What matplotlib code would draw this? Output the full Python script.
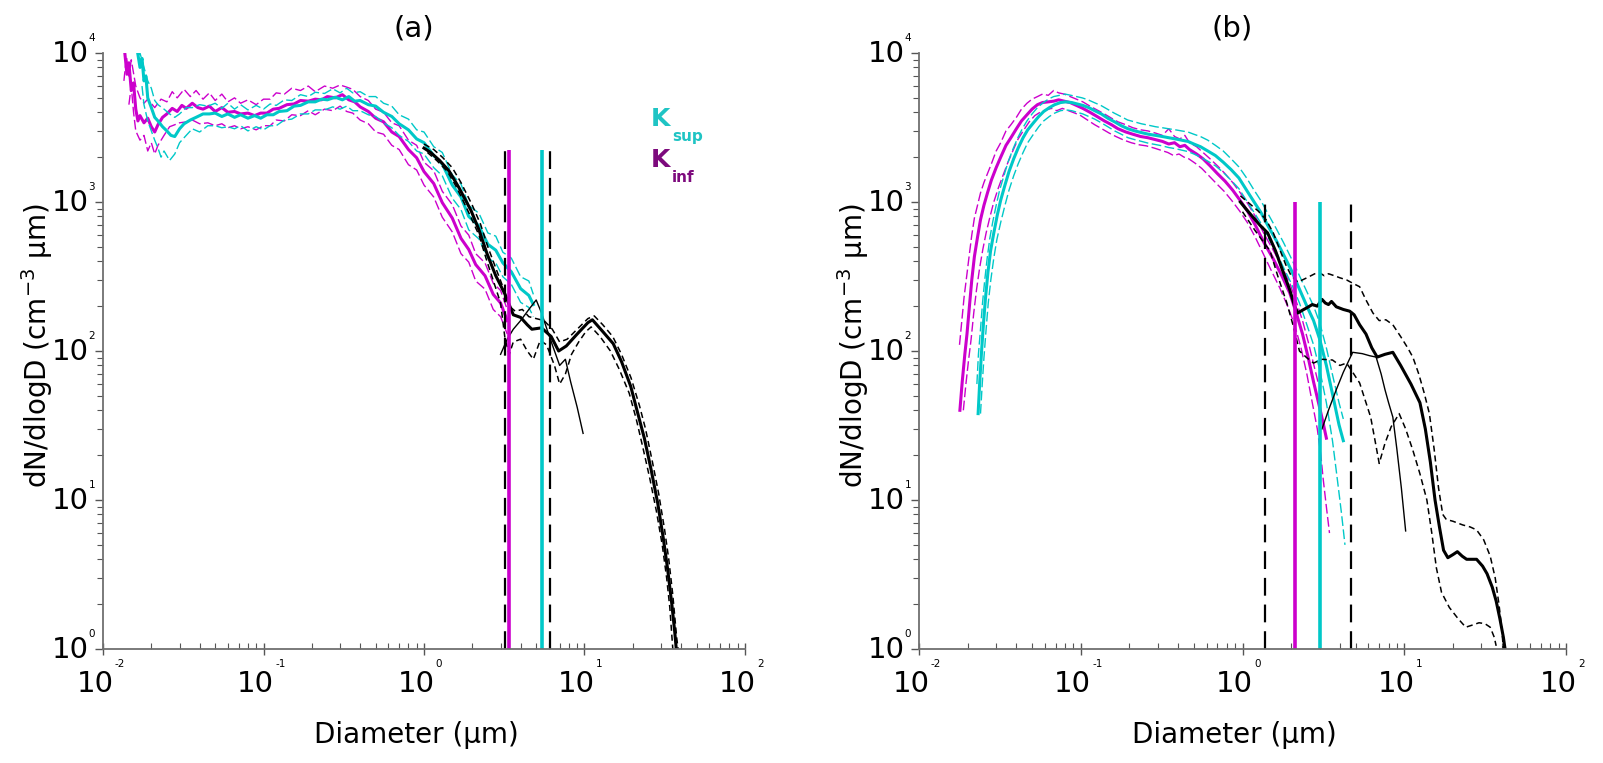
import matplotlib
matplotlib.use("Agg")
import matplotlib.pyplot as plt
from matplotlib.ticker import LogLocator, NullFormatter

# ---- panel (a): Kinf (magenta) / Ksup (cyan), mean and bounds (D in um, dN/dlogD)
mag_a = [(0.0137, 9800), (0.0141, 7200), (0.0145, 8600), (0.0150, 5600), (0.0155, 6300),
         (0.0160, 4200), (0.0165, 3500), (0.0170, 3800), (0.0180, 3400), (0.0190, 3650),
         (0.0200, 3200), (0.0210, 2950), (0.0220, 3300), (0.0235, 3700), (0.0250, 3900),
         (0.0270, 4250), (0.0290, 4050), (0.0310, 4450), (0.0330, 4250), (0.0360, 4600),
         (0.0390, 4300), (0.0420, 4200), (0.0460, 4400), (0.0500, 4050), (0.0550, 4300),
         (0.0600, 4000), (0.0660, 4050), (0.0720, 3900), (0.0800, 3950), (0.0880, 3800),
         (0.0960, 3950), (0.105, 3950), (0.115, 4200), (0.125, 4250), (0.140, 4500),
         (0.155, 4550), (0.170, 4800), (0.190, 4750), (0.210, 4900), (0.230, 4850),
         (0.250, 5100), (0.280, 5000), (0.310, 5250), (0.340, 4850), (0.370, 4700),
         (0.400, 4350), (0.450, 4050), (0.500, 3650), (0.560, 3450), (0.630, 2950),
         (0.700, 2750), (0.800, 2250), (0.900, 1980), (1.00, 1600), (1.15, 1330),
         (1.30, 990), (1.50, 780), (1.70, 570), (1.90, 480), (2.10, 380),
         (2.40, 320), (2.70, 240), (3.00, 210), (3.30, 160)]
mag_a_hi = [(0.0135, 6500), (0.014, 9500), (0.0145, 7000), (0.015, 9000), (0.016, 6000),
            (0.017, 5000), (0.018, 4600), (0.019, 4900), (0.021, 4300), (0.023, 4900),
            (0.025, 4700), (0.027, 5500), (0.029, 5000), (0.032, 5700), (0.035, 5100),
            (0.038, 5600), (0.042, 4900), (0.046, 5400), (0.05, 4800), (0.055, 5300),
            (0.06, 4700), (0.066, 5000), (0.072, 4600), (0.08, 4850), (0.09, 4500),
            (0.10, 4900), (0.11, 4900), (0.12, 5400), (0.135, 5300), (0.15, 5800),
            (0.17, 5600), (0.19, 6000), (0.21, 5500), (0.24, 6000), (0.27, 5800),
            (0.30, 6100), (0.33, 5900), (0.36, 5700), (0.40, 5100), (0.45, 4800),
            (0.50, 4200), (0.56, 4000), (0.63, 3400), (0.70, 3250), (0.80, 2600),
            (0.90, 2400), (1.0, 1850), (1.15, 1620), (1.3, 1180), (1.5, 960),
            (1.7, 690), (1.9, 600), (2.1, 450), (2.4, 390), (2.7, 285), (3.0, 255), (3.3, 190)]
mag_a_lo = [(0.0145, 4500), (0.015, 6000), (0.0155, 4000), (0.016, 3000), (0.017, 2600),
            (0.018, 2800), (0.019, 2200), (0.020, 2500), (0.021, 2100), (0.022, 2400),
            (0.024, 2800), (0.026, 3200), (0.028, 3300), (0.030, 3400), (0.033, 3450),
            (0.036, 3550), (0.040, 3350), (0.045, 3400), (0.050, 3250), (0.055, 3350),
            (0.060, 3150), (0.066, 3250), (0.072, 3100), (0.080, 3200), (0.090, 3050),
            (0.10, 3250), (0.11, 3250), (0.12, 3550), (0.135, 3500), (0.15, 3850),
            (0.17, 3800), (0.19, 4100), (0.21, 3850), (0.24, 4200), (0.27, 4100),
            (0.30, 4400), (0.33, 4050), (0.36, 3950), (0.40, 3550), (0.45, 3350),
            (0.50, 2950), (0.56, 2850), (0.63, 2400), (0.70, 2250), (0.80, 1780),
            (0.90, 1640), (1.0, 1300), (1.15, 1080), (1.3, 790), (1.5, 630),
            (1.7, 450), (1.9, 395), (2.1, 295), (2.4, 260), (2.7, 190), (3.0, 170), (3.3, 130)]

cyan_a = [(0.0165, 9800), (0.0170, 8000), (0.0175, 9200), (0.0180, 6500), (0.0185, 7000),
          (0.0190, 5000), (0.0200, 4300), (0.0210, 3700), (0.0220, 3500), (0.0235, 3200),
          (0.0250, 3000), (0.0265, 2800), (0.0280, 2750), (0.0300, 3100), (0.0320, 3350),
          (0.0350, 3550), (0.0380, 3700), (0.0420, 3900), (0.0460, 3900), (0.0500, 3950),
          (0.0550, 3750), (0.0600, 3900), (0.0660, 3700), (0.0720, 3850), (0.0800, 3650),
          (0.0880, 3800), (0.0960, 3650), (0.105, 3850), (0.115, 3850), (0.125, 4050),
          (0.140, 4100), (0.155, 4400), (0.170, 4450), (0.190, 4700), (0.210, 4700),
          (0.230, 4900), (0.250, 4850), (0.280, 5050), (0.310, 4850), (0.340, 5100),
          (0.370, 4750), (0.400, 4800), (0.450, 4500), (0.500, 4400), (0.560, 4000),
          (0.630, 3750), (0.700, 3350), (0.800, 3050), (0.900, 2650), (1.00, 2500),
          (1.15, 2050), (1.30, 1800), (1.50, 1300), (1.70, 1080), (1.90, 800),
          (2.20, 690), (2.50, 520), (2.80, 475), (3.10, 390), (3.50, 340),
          (4.00, 262), (4.50, 236), (4.80, 205)]
cyan_a_hi = [(0.0165, 9500), (0.017, 10000), (0.018, 8000), (0.019, 6500), (0.020, 5800),
             (0.021, 4800), (0.022, 4500), (0.024, 4200), (0.026, 3900), (0.028, 3700),
             (0.030, 3900), (0.033, 4300), (0.036, 4300), (0.040, 4500), (0.045, 4400),
             (0.050, 4600), (0.055, 4250), (0.060, 4600), (0.066, 4200), (0.072, 4500),
             (0.080, 4150), (0.090, 4450), (0.10, 4200), (0.11, 4550), (0.12, 4450),
             (0.135, 4850), (0.15, 4800), (0.17, 5250), (0.19, 5100), (0.21, 5450),
             (0.24, 5350), (0.27, 5750), (0.30, 5400), (0.33, 5800), (0.36, 5400),
             (0.40, 5500), (0.45, 5100), (0.50, 5100), (0.56, 4600), (0.63, 4400),
             (0.70, 3850), (0.80, 3600), (0.90, 3050), (1.0, 2950), (1.15, 2350),
             (1.3, 2150), (1.5, 1520), (1.7, 1320), (1.9, 950), (2.2, 840),
             (2.5, 620), (2.8, 590), (3.1, 460), (3.5, 420), (4.0, 315), (4.5, 295), (4.8, 240)]
cyan_a_lo = [(0.0175, 6000), (0.018, 4500), (0.019, 3500), (0.020, 3000), (0.021, 2600),
             (0.022, 2300), (0.023, 2000), (0.024, 2200), (0.026, 1900), (0.028, 2100),
             (0.030, 2500), (0.033, 2800), (0.036, 3100), (0.040, 2950), (0.045, 3250),
             (0.050, 3250), (0.055, 3150), (0.060, 3200), (0.066, 3100), (0.072, 3250),
             (0.080, 3000), (0.090, 3200), (0.10, 3050), (0.11, 3250), (0.12, 3250),
             (0.135, 3550), (0.15, 3600), (0.17, 3900), (0.19, 3900), (0.21, 4150),
             (0.24, 4150), (0.27, 4350), (0.30, 4200), (0.33, 4400), (0.36, 4100),
             (0.40, 4100), (0.45, 3850), (0.50, 3750), (0.56, 3400), (0.63, 3150),
             (0.70, 2800), (0.80, 2550), (0.90, 2200), (1.0, 2100), (1.15, 1700),
             (1.3, 1500), (1.5, 1060), (1.7, 890), (1.9, 650), (2.2, 565),
             (2.5, 420), (2.8, 390), (3.1, 315), (3.5, 280), (4.0, 212), (4.5, 196), (4.8, 170)]

# black: optical counter (thick) with bounds, second counter (thin)
blk_a = [(1.00, 2300), (1.10, 2150), (1.25, 1900), (1.43, 1620), (1.65, 1250), (1.96, 880),
         (2.2, 650), (2.47, 450), (2.8, 320), (3.2, 240), (3.6, 175), (4.0, 168), (4.4, 150),
         (4.7, 140), (5.4, 143), (6.2, 125), (6.9, 100), (7.7, 108), (9.0, 130), (10.5, 155),
         (11.2, 162), (13.0, 135), (15.1, 112), (17.0, 85), (19.4, 58), (21.5, 38),
         (23.6, 26), (26.0, 16), (28.6, 9.5), (31.0, 5.5), (33.0, 3.4), (35.0, 2.0),
         (36.5, 1.3), (37.3, 1.0)]
blk_a_hi = [(1.00, 2450), (1.15, 2250), (1.3, 2000), (1.5, 1700), (1.7, 1350), (2.0, 950),
            (2.25, 710), (2.5, 500), (2.8, 360), (3.1, 270), (3.4, 200), (3.7, 185),
            (4.1, 190), (4.5, 170), (5.0, 165), (5.6, 160), (6.3, 140), (7.0, 115),
            (7.8, 120), (9.0, 140), (10.5, 165), (11.5, 172), (13.0, 150), (15.0, 125),
            (17.0, 95), (19.5, 66), (22.0, 43), (24.0, 30), (26.5, 18), (29.0, 11),
            (31.5, 6.4), (33.5, 4.0), (35.5, 2.3), (37.5, 1.2), (38.3, 1.0)]
blk_a_lo = [(1.05, 2150), (1.2, 1900), (1.4, 1600), (1.6, 1250), (1.9, 850), (2.2, 600),
            (2.45, 410), (2.75, 280), (3.0, 210), (3.2, 120), (3.4, 95), (3.6, 115),
            (4.0, 120), (4.4, 100), (4.8, 88), (5.3, 118), (5.8, 110), (6.5, 80), (7.0, 60),
            (7.6, 70), (8.3, 95), (9.2, 115), (10.2, 135), (11.0, 145), (12.5, 125),
            (14.5, 100), (16.5, 75), (19.0, 52), (21.0, 35), (23.0, 23), (25.5, 14),
            (28.0, 8.5), (30.5, 5.0), (32.5, 3.0), (34.0, 1.9), (35.5, 1.0)]
thin_a = [(3.0, 95), (3.3, 120), (3.6, 140), (4.0, 160), (4.5, 190), (5.0, 220), (5.4, 180),
          (5.9, 135), (6.4, 105), (7.0, 80), (7.6, 88), (8.2, 62), (9.0, 42), (9.8, 28)]

# ---- panel (b)
mag_b = [(0.0179, 40), (0.0185, 62), (0.0192, 95), (0.0198, 130), (0.0205, 200), (0.0212, 300),
         (0.0220, 430), (0.0230, 580), (0.0240, 760), (0.0252, 950), (0.0265, 1150),
         (0.0280, 1400), (0.0300, 1700), (0.0320, 2000), (0.0345, 2400), (0.0370, 2700),
         (0.0400, 3100), (0.0430, 3500), (0.0465, 3850), (0.0500, 4200), (0.0540, 4500),
         (0.0580, 4650), (0.0630, 4700), (0.0680, 4750), (0.0730, 4850), (0.0790, 4750),
         (0.0860, 4650), (0.0940, 4450), (0.103, 4250), (0.114, 4000), (0.126, 3750),
         (0.140, 3500), (0.155, 3300), (0.170, 3100), (0.190, 2950), (0.210, 2850),
         (0.235, 2750), (0.260, 2700), (0.290, 2620), (0.320, 2550), (0.350, 2450),
         (0.380, 2500), (0.410, 2350), (0.440, 2400), (0.470, 2250), (0.520, 2100),
         (0.570, 1950), (0.630, 1750), (0.700, 1550), (0.780, 1380), (0.870, 1200),
         (0.970, 1020), (1.08, 860), (1.20, 700), (1.35, 540), (1.54, 420), (1.75, 320),
         (1.96, 245), (2.15, 180), (2.35, 130), (2.55, 90), (2.75, 62), (2.95, 45),
         (3.15, 33), (3.30, 26)]
mag_b_hi = [(0.0178, 110), (0.0185, 170), (0.019, 230), (0.0198, 330), (0.0205, 450),
            (0.0212, 600), (0.022, 780), (0.023, 950), (0.024, 1150), (0.0252, 1350),
            (0.0265, 1550), (0.028, 1800), (0.030, 2200), (0.032, 2500), (0.0345, 3000),
            (0.037, 3300), (0.040, 3700), (0.043, 4200), (0.0465, 4600), (0.050, 4900),
            (0.054, 5100), (0.058, 5300), (0.063, 5200), (0.068, 5600), (0.073, 5400),
            (0.079, 5300), (0.086, 5100), (0.094, 4900), (0.103, 4700), (0.114, 4400),
            (0.126, 4150), (0.140, 3900), (0.155, 3650), (0.170, 3450), (0.190, 3300),
            (0.210, 3150), (0.235, 3050), (0.260, 3000), (0.290, 2900), (0.320, 2800),
            (0.350, 3100), (0.380, 2750), (0.410, 2650), (0.440, 2800), (0.470, 2500),
            (0.520, 2350), (0.570, 2150), (0.630, 1950), (0.700, 1750), (0.780, 1550),
            (0.870, 1350), (0.970, 1150), (1.08, 970), (1.20, 800), (1.35, 620),
            (1.54, 480), (1.75, 370), (1.96, 285), (2.15, 215), (2.35, 160), (2.55, 115),
            (2.75, 82), (2.95, 60)]
mag_b_lo = [(0.0188, 40), (0.0195, 60), (0.0202, 85), (0.021, 120), (0.0218, 180),
            (0.0227, 260), (0.0237, 360), (0.0248, 480), (0.026, 620), (0.0275, 800),
            (0.029, 1000), (0.031, 1250), (0.033, 1500), (0.0355, 1850), (0.038, 2200),
            (0.041, 2650), (0.0445, 3050), (0.048, 3450), (0.052, 3800), (0.056, 4000),
            (0.061, 4150), (0.066, 4250), (0.071, 4100), (0.077, 4250), (0.084, 4100),
            (0.092, 3950), (0.10, 3800), (0.11, 3550), (0.122, 3300), (0.135, 3100),
            (0.15, 2900), (0.165, 2750), (0.185, 2600), (0.205, 2500), (0.23, 2420),
            (0.255, 2380), (0.285, 2300), (0.315, 2220), (0.345, 2150), (0.375, 2050),
            (0.405, 2100), (0.435, 2000), (0.465, 1950), (0.51, 1820), (0.56, 1680),
            (0.62, 1500), (0.69, 1330), (0.77, 1180), (0.86, 1020), (0.96, 870),
            (1.07, 730), (1.19, 590), (1.33, 460), (1.50, 350), (1.70, 265), (1.90, 200),
            (2.10, 150), (2.30, 105), (2.50, 70), (2.70, 45), (2.90, 30), (3.05, 20),
            (3.15, 14), (3.3, 9), (3.45, 6)]

cyan_b = [(0.0232, 38), (0.0237, 60), (0.0243, 95), (0.025, 150), (0.0258, 230), (0.0267, 340),
          (0.0277, 470), (0.029, 620), (0.0305, 820), (0.032, 1030), (0.034, 1300),
          (0.036, 1600), (0.0385, 1950), (0.041, 2300), (0.044, 2700), (0.047, 3050),
          (0.051, 3400), (0.055, 3750), (0.059, 4050), (0.064, 4300), (0.069, 4500),
          (0.075, 4650), (0.081, 4700), (0.088, 4650), (0.095, 4550), (0.103, 4450),
          (0.112, 4300), (0.122, 4100), (0.134, 3900), (0.147, 3650), (0.162, 3450),
          (0.178, 3250), (0.196, 3100), (0.216, 3000), (0.238, 2920), (0.262, 2850),
          (0.29, 2800), (0.32, 2750), (0.35, 2700), (0.385, 2650), (0.42, 2600),
          (0.46, 2550), (0.50, 2450), (0.55, 2350), (0.61, 2200), (0.68, 2050),
          (0.76, 1850), (0.85, 1650), (0.95, 1450), (1.06, 1200), (1.18, 1000),
          (1.30, 850), (1.45, 680), (1.62, 550), (1.80, 440), (2.0, 350), (2.25, 260),
          (2.5, 200), (2.75, 160), (3.0, 120), (3.3, 80), (3.65, 48), (3.95, 32), (4.2, 25)]
cyan_b_hi = [(0.0228, 60), (0.0233, 95), (0.024, 140), (0.0247, 210), (0.0255, 300),
             (0.0264, 420), (0.0274, 570), (0.0286, 740), (0.030, 950), (0.0315, 1200),
             (0.0335, 1500), (0.0355, 1850), (0.038, 2250), (0.0405, 2650), (0.0435, 3100),
             (0.0465, 3500), (0.050, 3900), (0.054, 4300), (0.058, 4600), (0.063, 4900),
             (0.068, 5100), (0.074, 5200), (0.080, 5300), (0.087, 5200), (0.094, 5100),
             (0.102, 5000), (0.111, 4850), (0.121, 4650), (0.133, 4450), (0.146, 4200),
             (0.161, 3950), (0.177, 3750), (0.195, 3550), (0.215, 3450), (0.237, 3350),
             (0.261, 3280), (0.29, 3200), (0.32, 3150), (0.35, 3100), (0.385, 3050),
             (0.42, 3000), (0.46, 2950), (0.50, 2850), (0.55, 2750), (0.61, 2600),
             (0.68, 2400), (0.76, 2200), (0.85, 1950), (0.95, 1720), (1.06, 1450),
             (1.18, 1200), (1.30, 1020), (1.45, 820), (1.62, 660), (1.80, 530), (2.0, 420),
             (2.25, 320), (2.5, 250), (2.75, 200), (3.0, 155), (3.3, 105), (3.65, 65),
             (3.95, 45), (4.2, 35)]
cyan_b_lo = [(0.0240, 38), (0.0246, 60), (0.0252, 90), (0.026, 140), (0.0268, 210),
             (0.0278, 300), (0.029, 420), (0.0303, 560), (0.032, 730), (0.034, 950),
             (0.036, 1200), (0.0385, 1500), (0.041, 1800), (0.044, 2150), (0.047, 2500),
             (0.051, 2850), (0.055, 3200), (0.059, 3500), (0.064, 3750), (0.069, 3950),
             (0.075, 4100), (0.081, 4150), (0.088, 4100), (0.095, 4000), (0.103, 3900),
             (0.112, 3750), (0.122, 3600), (0.134, 3400), (0.147, 3200), (0.162, 3000),
             (0.178, 2850), (0.196, 2700), (0.216, 2620), (0.238, 2550), (0.262, 2480),
             (0.29, 2430), (0.32, 2380), (0.35, 2320), (0.385, 2280), (0.42, 2230),
             (0.46, 2180), (0.50, 2100), (0.55, 2000), (0.61, 1880), (0.68, 1750),
             (0.76, 1580), (0.85, 1400), (0.95, 1230), (1.06, 1020), (1.18, 850),
             (1.30, 720), (1.45, 570), (1.62, 460), (1.80, 360), (2.0, 285), (2.25, 210),
             (2.5, 150), (2.75, 110), (3.0, 75), (3.3, 45), (3.6, 25), (3.85, 14),
             (4.1, 8), (4.3, 5)]

blk_b = [(0.97, 1000), (1.05, 900), (1.15, 800), (1.28, 700), (1.43, 620), (1.6, 470),
         (1.8, 330), (1.96, 257), (2.1, 200), (2.2, 180), (2.35, 188), (2.5, 195), (2.7, 205),
         (2.9, 200), (3.1, 222), (3.25, 210), (3.4, 205), (3.55, 215), (3.8, 198), (4.2, 190),
         (4.6, 185), (4.9, 175), (5.3, 150), (5.8, 130), (6.3, 105), (6.8, 91), (7.6, 95),
         (8.5, 98), (9.5, 80), (11.0, 60), (12.5, 45), (13.5, 30), (14.5, 18), (15.5, 10),
         (16.5, 6.6), (17.5, 4.6), (18.6, 4.1), (20.0, 4.3), (21.3, 4.5), (22.8, 4.2),
         (24.3, 4.0), (26.0, 4.0), (28.0, 4.0), (30.5, 3.6), (32.5, 3.2), (35.0, 2.6),
         (37.0, 2.1), (39.0, 1.6), (41.0, 1.2), (42.0, 1.0)]
blk_b_hi = [(0.97, 1100), (1.1, 980), (1.25, 870), (1.4, 760), (1.55, 620), (1.7, 480),
            (1.85, 380), (2.0, 320), (2.2, 290), (2.5, 310), (2.8, 330), (3.0, 335),
            (3.2, 320), (3.4, 330), (3.7, 320), (4.0, 310), (4.4, 300), (4.8, 285),
            (5.3, 270), (5.8, 220), (6.4, 180), (7.0, 160), (7.7, 162), (8.5, 150),
            (9.5, 125), (10.5, 105), (11.3, 91), (12.3, 70), (13.3, 52), (14.3, 38),
            (15.3, 22), (16.3, 12), (17.3, 8.0), (18.2, 7.4), (20.0, 7.2), (23.0, 6.8),
            (25.5, 6.6), (28.0, 6.3), (31.0, 5.4), (34.0, 4.2), (36.5, 3.0), (38.5, 2.0),
            (40.0, 1.4), (41.0, 1.0)]
blk_b_lo = [(1.0, 860), (1.2, 640), (1.48, 470), (1.65, 320), (1.88, 210), (2.05, 150),
            (2.25, 100), (2.5, 90), (2.75, 83), (3.1, 88), (3.6, 87), (4.0, 80), (4.4, 83),
            (4.8, 72), (5.3, 61), (5.8, 45), (6.2, 36), (6.6, 25), (7.0, 17.6), (7.6, 24),
            (8.3, 31), (9.3, 38), (10.2, 30), (11.3, 21.6), (12.5, 15), (13.8, 10),
            (14.8, 6), (15.8, 3.5), (17.0, 2.4), (19.0, 1.9), (21.5, 1.6), (24.0, 1.4),
            (26.5, 1.45), (29.0, 1.5), (31.5, 1.48), (34.0, 1.4), (36.0, 1.2), (37.0, 1.05)]
thin_b = [(3.1, 30), (3.4, 40), (3.8, 55), (4.2, 72), (4.8, 98), (5.5, 96), (6.1, 93),
          (6.7, 91), (7.2, 70), (7.6, 55), (8.0, 45), (8.5, 36), (9.0, 22), (9.6, 12),
          (10.2, 6.2)]

# cut-off diameters: [dashed low, Kinf, Ksup, dashed high], and top of the markers
cuts_a = [3.2, 3.4, 5.45, 6.1]
cuts_b = [1.38, 2.11, 3.03, 4.68]
cut_top = [2230, 1000]

MAG = "#cc00cc"
CYN = "#00c8c8"

W, H = 1603, 763
fig = plt.figure(figsize=(W / 100, H / 100), dpi=100)


def px_box(x0, x1, y0, y1):
    return [x0 / W, 1 - y1 / H, (x1 - x0) / W, (y1 - y0) / H]


ax_a = fig.add_axes(px_box(103, 745, 53, 649))
ax_b = fig.add_axes(px_box(919, 1566, 53, 649))


def draw(ax, pairs, **kw):
    d, n = zip(*pairs)
    ax.plot(d, n, **kw)


def draw_set(ax, mean, hi, lo, color):
    draw(ax, hi, color=color, lw=1.0, dashes=(7, 2.5))
    draw(ax, lo, color=color, lw=1.0, dashes=(7, 2.5))
    draw(ax, mean, color=color, lw=2.2)


def draw_cuts(ax, cuts, top):
    ax.vlines([cuts[0], cuts[3]], 1, top, colors="black", lw=1.6, linestyles=(0, (8, 4)))
    ax.vlines(cuts[1], 1, top, colors=MAG, lw=2.6)
    ax.vlines(cuts[2], 1, top, colors=CYN, lw=2.6)


draw_set(ax_a, mag_a, mag_a_hi, mag_a_lo, MAG)
draw_set(ax_a, cyan_a, cyan_a_hi, cyan_a_lo, CYN)
draw(ax_a, blk_a_hi, color="black", lw=1.1, dashes=(4, 2.5))
draw(ax_a, blk_a_lo, color="black", lw=1.1, dashes=(4, 2.5))
draw(ax_a, blk_a, color="black", lw=2.2)
draw(ax_a, thin_a, color="black", lw=1.0)
draw_cuts(ax_a, cuts_a, cut_top[0])

draw_set(ax_b, mag_b, mag_b_hi, mag_b_lo, MAG)
draw_set(ax_b, cyan_b, cyan_b_hi, cyan_b_lo, CYN)
draw(ax_b, blk_b_hi, color="black", lw=1.1, dashes=(4, 2.5))
draw(ax_b, blk_b_lo, color="black", lw=1.1, dashes=(4, 2.5))
draw(ax_b, blk_b, color="black", lw=2.2)
draw(ax_b, thin_b, color="black", lw=1.0)
draw_cuts(ax_b, cuts_b, cut_top[1])

for ax in (ax_a, ax_b):
    ax.set_xscale("log")
    ax.set_yscale("log")
    ax.set_xlim(1e-2, 1e2)
    ax.set_ylim(1, 1e4)
    for s in ("top", "right"):
        ax.spines[s].set_visible(False)
    for s in ("left", "bottom"):
        ax.spines[s].set_color("#707070")
        ax.spines[s].set_linewidth(1.3)
    ax.xaxis.set_major_locator(LogLocator(base=10, numticks=10))
    ax.xaxis.set_minor_locator(LogLocator(base=10, subs=range(2, 10), numticks=10))
    ax.yaxis.set_major_locator(LogLocator(base=10, numticks=10))
    ax.yaxis.set_minor_locator(LogLocator(base=10, subs=range(2, 10), numticks=10))
    for axis in (ax.xaxis, ax.yaxis):
        axis.set_major_formatter(NullFormatter())
        axis.set_minor_formatter(NullFormatter())
    ax.tick_params(axis="x", which="major", direction="inout", length=9, width=1, color="#555555")
    ax.tick_params(axis="x", which="minor", direction="in", length=4, width=0.8, color="#555555")
    ax.tick_params(axis="y", which="major", direction="out", length=6, width=1, color="#555555")
    ax.tick_params(axis="y", which="minor", direction="out", length=4, width=0.8, color="#555555")

    # decade labels: big "10" with a small raised exponent
    for e in range(-2, 3):
        ax.annotate("10", xy=(10.0 ** e, 0), xycoords=("data", "axes fraction"),
                    xytext=(7.5, -15), textcoords="offset points",
                    ha="right", va="top", fontsize=21, annotation_clip=False)
        ax.annotate(str(e), xy=(10.0 ** e, 0), xycoords=("data", "axes fraction"),
                    xytext=(8.5, -11), textcoords="offset points",
                    ha="left", va="center", fontsize=7.5, annotation_clip=False)
    for e in range(0, 5):
        ax.annotate("10", xy=(0, 10.0 ** e), xycoords=("axes fraction", "data"),
                    xytext=(-10.5, -1), textcoords="offset points",
                    ha="right", va="center", fontsize=21, annotation_clip=False)
        ax.annotate(str(e), xy=(0, 10.0 ** e), xycoords=("axes fraction", "data"),
                    xytext=(-10.5, 11), textcoords="offset points",
                    ha="left", va="center", fontsize=7.5, annotation_clip=False)


def ftext(x, y, s, **kw):
    fig.text(x / W, 1 - y / H, s, **kw)


ylab = "dN/dlogD (cm$^{-3}$ µm)"
for xc, yl, title in [(424, 37, "(a)"), (1242, 853, "(b)")]:
    ftext(xc - 10, 28, title, ha="center", va="center", fontsize=21)
    ftext(xc - 8, 735, "Diameter (µm)", ha="center", va="center", fontsize=20)
    ftext(yl, 346, ylab, ha="center", va="center", rotation=90, fontsize=20)

# K labels
ftext(651, 119, "K", color="#1fc4c4", fontsize=18, fontweight="bold", ha="left", va="center")
ftext(672, 137, "sup", color="#1fc4c4", fontsize=11, fontweight="bold", ha="left", va="center")
ftext(651, 160, "K", color="#7d0a7d", fontsize=18, fontweight="bold", ha="left", va="center")
ftext(672, 177, "inf", color="#7d0a7d", fontsize=11, fontweight="bold", ha="left", va="center")

fig.savefig("out.png", dpi=100, facecolor="white")
